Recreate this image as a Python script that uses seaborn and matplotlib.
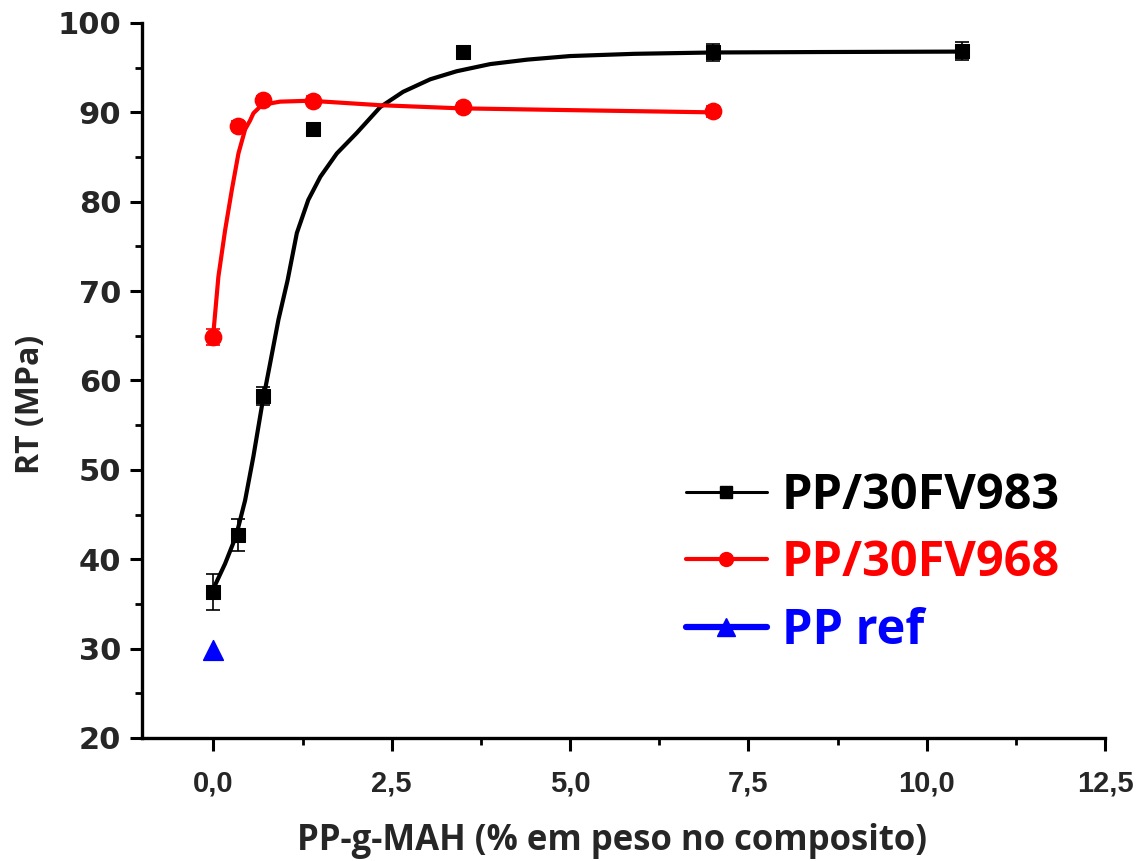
import numpy as np
import pandas as pd
import matplotlib
matplotlib.use("Agg")
import matplotlib.pyplot as plt
from matplotlib.lines import Line2D
from matplotlib.ticker import MultipleLocator, FuncFormatter
import seaborn as sns

# ---- data ----
x_983 = [0.0, 0.35, 0.7, 1.4, 3.5, 7.0, 10.5]
y_983 = [36.3, 42.7, 58.3, 88.1, 96.7, 96.7, 96.9]
e_983 = [2.0, 1.8, 1.0, 0.5, 0.5, 0.9, 1.0]

x_968 = [0.0, 0.35, 0.7, 1.4, 3.5, 7.0]
y_968 = [64.9, 88.5, 91.4, 91.3, 90.6, 90.1]
e_968 = [0.9, 0.5, 0.4, 0.5, 0.5, 0.6]

x_ref = [0.0]
y_ref = [29.8]
e_ref = [0.8]

# fitted curves
fit983_x = [0.0, 0.164, 0.318, 0.445, 0.561, 0.679, 0.795, 0.912, 1.04, 1.17, 1.33,
            1.50, 1.73, 2.01, 2.34, 2.66, 3.04, 3.41, 3.88, 4.40, 5.0, 5.9, 7.0, 8.5, 10.5]
fit983_y = [36.7, 39.5, 42.6, 46.6, 51.5, 57.1, 61.9, 66.8, 71.2, 76.5, 80.2,
            82.8, 85.4, 87.7, 90.6, 92.3, 93.7, 94.6, 95.4, 95.9, 96.3, 96.55, 96.7, 96.75, 96.8]
fit968_x = [0.0, 0.07, 0.164, 0.258, 0.351, 0.445, 0.515, 0.561, 0.65, 0.725, 0.935,
            1.356, 2.34, 3.46, 5.0, 7.0]
fit968_y = [65.3, 71.6, 76.8, 81.3, 85.4, 88.1, 89.1, 89.9, 90.6, 90.9, 91.2,
            91.3, 90.8, 90.45, 90.25, 90.0]

labels = ["PP/30FV983", "PP/30FV968", "PP ref"]
colors = ["#000000", "#ff0000", "#0000ff"]

sns.set_style("white")
plt.rcParams["font.family"] = ["DejaVu Sans"]

fig = plt.figure(figsize=(11.41, 8.61), dpi=100)
ax = fig.add_axes([0.1245, 0.1429, 0.844, 0.8304])

f983 = pd.DataFrame({"x": fit983_x, "y": fit983_y})
f968 = pd.DataFrame({"x": fit968_x, "y": fit968_y})
sns.lineplot(data=f983, x="x", y="y", ax=ax, color=colors[0], lw=3.0, sort=False)
sns.lineplot(data=f968, x="x", y="y", ax=ax, color=colors[1], lw=3.0, sort=False)

ax.errorbar(x_983, y_983, yerr=e_983, fmt="none", ecolor=colors[0], elinewidth=1.2,
            capsize=5, capthick=1.2, zorder=3)
ax.errorbar(x_968, y_968, yerr=e_968, fmt="none", ecolor=colors[1], elinewidth=1.2,
            capsize=5, capthick=1.2, zorder=3)
ax.errorbar(x_ref, y_ref, yerr=e_ref, fmt="none", ecolor=colors[2], elinewidth=1.2,
            capsize=0, zorder=3)

sns.scatterplot(x=x_983, y=y_983, ax=ax, marker="s", s=90, color=colors[0],
                edgecolor=colors[0], zorder=4)
sns.scatterplot(x=x_968, y=y_968, ax=ax, marker="o", s=140, color=colors[1],
                edgecolor=colors[1], zorder=4)
sns.scatterplot(x=x_ref, y=y_ref, ax=ax, marker="^", s=200, color=colors[2],
                edgecolor=colors[2], zorder=4)

ax.set_xlim(-1.0, 12.5)
ax.set_ylim(20, 100)
ax.xaxis.set_major_locator(MultipleLocator(2.5))
ax.xaxis.set_minor_locator(MultipleLocator(1.25))
ax.yaxis.set_major_locator(MultipleLocator(10))
ax.yaxis.set_minor_locator(MultipleLocator(5))
ax.xaxis.set_major_formatter(FuncFormatter(lambda v, p: f"{v:.1f}".replace(".", ",")))

for s in ["top", "right"]:
    ax.spines[s].set_visible(False)
for s in ["left", "bottom"]:
    ax.spines[s].set_linewidth(2.4)
    ax.spines[s].set_color("black")

ax.tick_params(axis="both", which="major", direction="out", length=9, width=2.2,
               color="black", left=True, bottom=True)
ax.tick_params(axis="both", which="minor", direction="out", length=5, width=2.0,
               color="black", left=True, bottom=True)
ax.tick_params(axis="y", which="major", pad=6, labelsize=22)
ax.tick_params(axis="x", which="major", pad=14, labelsize=21)

for t in ax.get_yticklabels():
    t.set_fontweight("bold")
for t in ax.get_xticklabels():
    t.set_family(["Liberation Sans Narrow", "Liberation Sans", "DejaVu Sans"])
    t.set_fontweight("bold")

ax.set_xlabel("PP-g-MAH (% em peso no composito)", fontsize=25, fontweight="bold",
              family=["Open Sans", "DejaVu Sans"], labelpad=18)
ax.xaxis.label.set_x(0.488)
ax.set_ylabel("RT (MPa)", fontsize=23, fontweight="bold",
              family=["Open Sans", "DejaVu Sans"])
ax.yaxis.set_label_coords(-0.099, 0.466)

handles = [
    Line2D([], [], color=colors[0], lw=2.2, marker="s", markersize=8),
    Line2D([], [], color=colors[1], lw=3.0, marker="o", markersize=10),
    Line2D([], [], color=colors[2], lw=4.5, marker="^", markersize=13),
]
leg = ax.legend(handles, labels, loc="lower left", bbox_to_anchor=(0.545, 0.088),
                frameon=False, handlelength=1.65, handletextpad=0.32,
                labelspacing=0.38, borderaxespad=0,
                prop={"family": ["Open Sans", "DejaVu Sans"], "weight": "bold", "size": 35})
for t, c in zip(leg.get_texts(), colors):
    t.set_color(c)

fig.savefig("out.png", dpi=100, facecolor="white")
